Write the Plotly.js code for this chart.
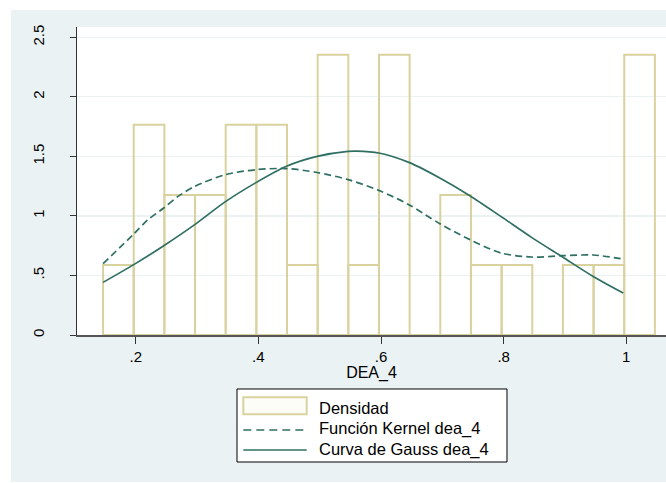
<!DOCTYPE html>
<html>
<head>
<meta charset="utf-8">
<script src="https://cdn.plot.ly/plotly-3.0.1.min.js"></script>
<style>
  html, body { margin: 0; padding: 0; background: #ffffff; }
  #chart { width: 666px; height: 483px; }
</style>
</head>
<body>
<div id="chart"></div>
<script>
// Histogram (density) of DEA_4
const binCenters = [0.1717, 0.2217, 0.2717, 0.3217, 0.3717, 0.4217, 0.4717, 0.5217, 0.5717,
                    0.6217, 0.6717, 0.7217, 0.7717, 0.8217, 0.8717, 0.9217, 0.9717, 1.0217];
const densities  = [0.588, 1.765, 1.176, 1.176, 1.765, 1.765, 0.588, 2.353, 0.588,
                    2.353, 0, 1.176, 0.588, 0.588, 0, 0.588, 0.588, 2.353];
const binWidth = 0.05;

// Kernel density curve
const kernelX = [0.1467, 0.1967, 0.2201, 0.2457, 0.269, 0.2962, 0.3463, 0.3969, 0.4458, 0.4958,
                 0.5463, 0.5964, 0.6454, 0.6959, 0.7449, 0.7954, 0.8455, 0.8961, 0.946, 0.995];
const kernelY = [0.599, 0.848, 0.969, 1.067, 1.164, 1.248, 1.347, 1.389, 1.398, 1.365,
                 1.305, 1.215, 1.095, 0.935, 0.801, 0.689, 0.655, 0.666, 0.672, 0.638];

// Normal (Gauss) curve
const gaussX = [0.1467, 0.1967, 0.2457, 0.2962, 0.3463, 0.3969, 0.4458, 0.4958, 0.5463, 0.560,
                0.5964, 0.6454, 0.6959, 0.7449, 0.7954, 0.8455, 0.8961, 0.946, 0.995];
const gaussY = [0.442, 0.591, 0.750, 0.927, 1.120, 1.282, 1.417, 1.500, 1.542, 1.544,
                1.529, 1.450, 1.319, 1.170, 0.996, 0.820, 0.655, 0.492, 0.353];

const xTickVals = [0.2, 0.4, 0.6, 0.8, 1];
const xTickText = ['.2', '.4', '.6', '.8', '1'];
const yTickVals = [0, 0.5, 1, 1.5, 2, 2.5];
const yTickText = ['0', '.5', '1', '1.5', '2', '2.5'];

const names = ['Densidad', 'Función Kernel dea_4', 'Curva de Gauss dea_4'];
const xTitle = 'DEA_4';

const barLine = '#d9d29f';
const curveColor = '#2f6f62';
const bg = '#eaf2f3';
const font = 'Arial, "Liberation Sans", sans-serif';
const kernelDash = '7px,4px';

const traces = [
  {
    type: 'bar', x: binCenters, y: densities, width: binWidth,
    name: names[0],
    marker: { color: 'rgba(255,255,255,0)', line: { color: barLine, width: 2 } },
    hoverinfo: 'skip'
  },
  {
    type: 'scatter', mode: 'lines', x: kernelX, y: kernelY, name: names[1],
    line: { color: curveColor, width: 1.7, dash: kernelDash, shape: 'spline', smoothing: 0.8 }
  },
  {
    type: 'scatter', mode: 'lines', x: gaussX, y: gaussY, name: names[2],
    line: { color: curveColor, width: 1.7, shape: 'spline', smoothing: 0.8 }
  }
];

// Legend drawn as a boxed key below the plot (paper coordinates)
const legBox = { x0: 0.27165, x1: 0.73005, y0: -0.41234, y1: -0.17532 };
const keyX0 = 0.28234, keyX1 = 0.38998, textX = 0.40747;
const keyRows = [-0.23539, -0.30422, -0.37013];

const layout = {
  width: 666, height: 483,
  margin: { l: 77, r: 0, t: 27, b: 148, pad: 0 },
  paper_bgcolor: bg,
  plot_bgcolor: '#ffffff',
  font: { family: font, size: 15, color: '#000000' },
  bargap: 0,
  showlegend: false,
  xaxis: {
    range: [0.1042, 1.0648],
    tickmode: 'array', tickvals: xTickVals, ticktext: xTickText,
    ticks: 'outside', ticklen: 7, tickwidth: 1, tickcolor: '#333333',
    showline: true, linecolor: '#555555', linewidth: 1.5,
    showgrid: false, zeroline: false,
    tickfont: { family: font, size: 15, color: '#000000' },
    title: { text: xTitle, font: { family: font, size: 16, color: '#000000' }, standoff: 1 },
    automargin: false
  },
  yaxis: {
    range: [0, 2.587],
    tickmode: 'array', tickvals: yTickVals, ticktext: yTickText,
    tickangle: -90,
    ticks: 'outside', ticklen: 6, tickwidth: 1, tickcolor: '#333333',
    ticklabelstandoff: 20,
    showline: true, linecolor: '#333333', linewidth: 1,
    showgrid: true, gridcolor: bg, gridwidth: 1.2,
    zeroline: false,
    tickfont: { family: font, size: 15, color: '#000000' },
    automargin: false
  },
  shapes: [
    { type: 'rect', xref: 'paper', yref: 'paper', x0: -0.1307, x1: -0.1121, y0: -0.4805, y1: 1.0877,
      fillcolor: '#ffffff', line: { width: 0 }, layer: 'below' },
    { type: 'rect', xref: 'paper', yref: 'paper', x0: -0.1307, x1: 1.0, y0: 1.0552, y1: 1.0877,
      fillcolor: '#ffffff', line: { width: 0 }, layer: 'below' },
    { type: 'rect', xref: 'paper', yref: 'paper', x0: -0.1307, x1: 1.0, y0: -0.4805, y1: -0.4773,
      fillcolor: '#ffffff', line: { width: 0 }, layer: 'below' },
    // legend frame
    { type: 'rect', xref: 'paper', yref: 'paper', x0: legBox.x0, x1: legBox.x1, y0: legBox.y0, y1: legBox.y1,
      fillcolor: '#ffffff', line: { color: '#000000', width: 1 }, layer: 'above' },
    // key: histogram box
    { type: 'rect', xref: 'paper', yref: 'paper', x0: keyX0, x1: keyX1, y0: -0.25747, y1: -0.20227,
      fillcolor: '#fdfdf8', line: { color: barLine, width: 2 }, layer: 'above' },
    // key: kernel dashed line
    { type: 'line', xref: 'paper', yref: 'paper', x0: keyX0, x1: keyX1, y0: -0.30844, y1: -0.30844,
      line: { color: curveColor, width: 1.7, dash: '8px,5px' }, layer: 'above' },
    // key: gauss solid line
    { type: 'line', xref: 'paper', yref: 'paper', x0: keyX0, x1: keyX1, y0: -0.37338, y1: -0.37338,
      line: { color: curveColor, width: 1.7 }, layer: 'above' }
  ],
  annotations: names.map((n, i) => ({
    xref: 'paper', yref: 'paper', x: textX, y: keyRows[i],
    xanchor: 'left', yanchor: 'middle', showarrow: false,
    text: n, font: { family: font, size: 16.5, color: '#000000' }
  }))
};

Plotly.newPlot('chart', traces, layout, { displayModeBar: false, staticPlot: true });
</script>
</body>
</html>
